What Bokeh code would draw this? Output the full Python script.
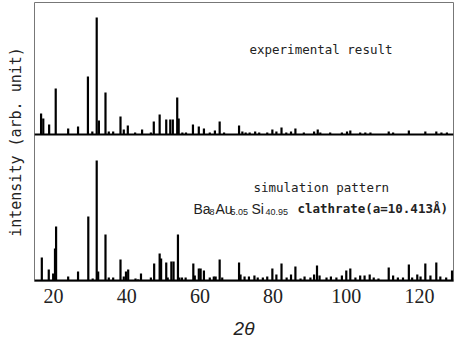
from bokeh.plotting import figure
from bokeh.models import ColumnDataSource, Range1d, Span, Label, FixedTicker
from bokeh.embed import file_html
from bokeh.resources import INLINE

# ---- data ----
exp_two_theta = [16.6, 17.2, 18.8, 20.6, 24.0, 26.7, 29.4, 30.6, 31.8, 32.4, 34.2, 35.1, 36.3,
                 38.3, 39.2, 40.3, 42.3, 44.2, 46.6, 47.4, 49.0, 50.8, 51.9, 52.6, 53.8, 54.2,
                 55.2, 56.2, 58.1, 59.7, 61.1, 62.7, 64.1, 65.4, 66.6, 70.7, 71.6, 72.5, 73.6,
                 75.1, 76.2, 78.4, 79.8, 80.9, 82.3, 83.6, 84.9, 86.1, 88.4, 91.2, 92.2, 92.9,
                 95.6, 98.8, 100.2, 101.1, 103.8, 105.2, 106.6, 111.6, 112.8, 117.1, 121.6,
                 124.6, 126.0, 127.5]
exp_intensity = [21, 16, 10, 46, 6, 8, 58, 3, 117, 14, 42, 3, 3,
                 18, 5, 9, 2, 5, 2, 13, 20, 15, 15, 15, 37, 16,
                 2, 2, 10, 8, 6, 2, 4, 13, 2, 9, 3, 2, 2,
                 3, 2, 2, 5, 3, 7, 2, 3, 6, 2, 3, 5, 2,
                 2, 2, 3, 4, 2, 2, 2, 3, 2, 4, 3,
                 3, 2, 2]

sim_two_theta = [16.8, 18.7, 19.9, 20.4, 20.7, 24.0, 26.7, 29.5, 30.7, 31.8, 32.2, 34.2, 35.1,
                 36.3, 38.3, 39.2, 39.8, 40.4, 42.4, 43.1, 43.9, 46.6, 47.5, 49.0, 49.4, 50.8,
                 51.2, 52.2, 52.8, 54.0, 54.4, 55.1, 56.1, 58.2, 58.6, 59.7, 60.2, 61.1, 62.7,
                 63.8, 64.3, 65.4, 66.1, 70.7, 71.1, 72.2, 73.4, 74.9, 75.8, 77.2, 78.4, 79.8,
                 80.9, 82.3, 83.7, 84.9, 86.1, 87.5, 88.6, 90.2, 91.2, 92.0, 92.7, 94.6, 95.8,
                 97.3, 98.8, 100.0, 101.1, 102.5, 103.8, 105.0, 106.4, 107.5, 108.8, 111.6,
                 112.8, 114.1, 115.5, 117.1, 118.0, 119.4, 120.3, 121.6, 123.0, 124.6, 125.7,
                 127.3, 128.9]
sim_intensity = [23, 11, 7, 32, 54, 4, 9, 64, 2, 120, 9, 46, 3,
                 3, 21, 4, 9, 11, 2, 1, 7, 3, 17, 27, 22, 18,
                 3, 19, 19, 46, 3, 3, 3, 17, 5, 12, 12, 10, 3,
                 4, 4, 21, 3, 18, 6, 4, 4, 5, 3, 3, 4, 12,
                 6, 17, 3, 6, 14, 2, 4, 3, 6, 15, 5, 3, 4,
                 3, 5, 10, 12, 3, 5, 5, 6, 3, 2, 13,
                 5, 3, 3, 16, 3, 6, 4, 17, 5, 18, 4,
                 3, 10]

x_ticks = [20, 40, 60, 80, 100, 120]
exp_offset = 146  # vertical shift of the experimental pattern

exp_src = ColumnDataSource(dict(x=exp_two_theta,
                                y0=[exp_offset] * len(exp_two_theta),
                                y1=[exp_offset + v for v in exp_intensity]))
sim_src = ColumnDataSource(dict(x=sim_two_theta,
                                y0=[0] * len(sim_two_theta),
                                y1=sim_intensity))

p = figure(width=458, height=360, output_backend="svg", toolbar_location=None,
           x_range=Range1d(14.8, 129.3), y_range=Range1d(-1, 278),
           min_border_left=34, min_border_right=5, min_border_top=2, min_border_bottom=79)

p.background_fill_color = "white"
p.border_fill_color = "white"
p.outline_line_color = "#777777"
p.outline_line_width = 1
p.grid.visible = False

p.segment(x0="x", y0="y0", x1="x", y1="y1", source=exp_src, line_color="black", line_width=2.2)
p.segment(x0="x", y0="y0", x1="x", y1="y1", source=sim_src, line_color="black", line_width=2.2)

p.add_layout(Span(location=exp_offset, dimension="width", line_color="black", line_width=2))
p.add_layout(Span(location=0, dimension="width", line_color="black", line_width=2))

# axes
xa = p.xaxis[0]
xa.ticker = FixedTicker(ticks=x_ticks)
xa.axis_line_color = None
xa.major_tick_line_color = None
xa.minor_tick_line_color = None
xa.major_tick_out = 0
xa.major_tick_in = 0
xa.major_label_standoff = 7
xa.major_label_text_font = "Liberation Serif"
xa.major_label_text_font_size = "20px"
xa.major_label_text_color = "#222222"
xa.axis_label = "2θ"
xa.axis_label_text_font = "Liberation Sans"
xa.axis_label_text_font_style = "italic"
xa.axis_label_text_font_size = "19px"
xa.axis_label_text_color = "#222222"
xa.axis_label_standoff = 12

ya = p.yaxis[0]
ya.ticker = FixedTicker(ticks=[])
ya.axis_line_color = None
ya.major_tick_line_color = None
ya.minor_tick_line_color = None
ya.major_tick_out = 0
ya.major_tick_in = 0
ya.major_label_text_font_size = "0px"
ya.axis_label = "intensity (arb. unit)"
ya.axis_label_text_font = "DejaVu Sans Mono"
ya.axis_label_text_font_style = "normal"
ya.axis_label_text_font_size = "15px"
ya.axis_label_text_color = "#222222"
ya.axis_label_standoff = 10


def px2deg(px):
    return 20 + (px - 53) / 3.66


def py2y(py):
    return 280 - py


mono = "DejaVu Sans Mono"
p.add_layout(Label(x=px2deg(249), y=py2y(49), text="experimental result", text_font=mono,
                   text_font_size="12.5px", text_baseline="middle", text_color="#222222"))
p.add_layout(Label(x=px2deg(253), y=py2y(187), text="simulation pattern", text_font=mono,
                   text_font_size="12.5px", text_baseline="middle", text_color="#222222"))

pieces = [("Ba", 193, 0, "14px"), ("8", 209, 3, "9px"), ("Au", 215, 0, "14px"),
          ("5.05", 230, 3, "9px"), ("Si", 251, 0, "14px"), ("40.95", 265, 3, "9px")]
for txt, px, dy, fs in pieces:
    p.add_layout(Label(x=px2deg(px), y=py2y(208 + dy), text=txt, text_font="Liberation Sans",
                       text_font_size=fs, text_baseline="middle", text_color="#222222"))
p.add_layout(Label(x=px2deg(297), y=py2y(208), text="clathrate(a=10.413Å)", text_font=mono,
                   text_font_size="12.5px", text_font_style="bold", text_baseline="middle",
                   text_color="#222222"))

open("out.html", "w").write(file_html(p, INLINE))
